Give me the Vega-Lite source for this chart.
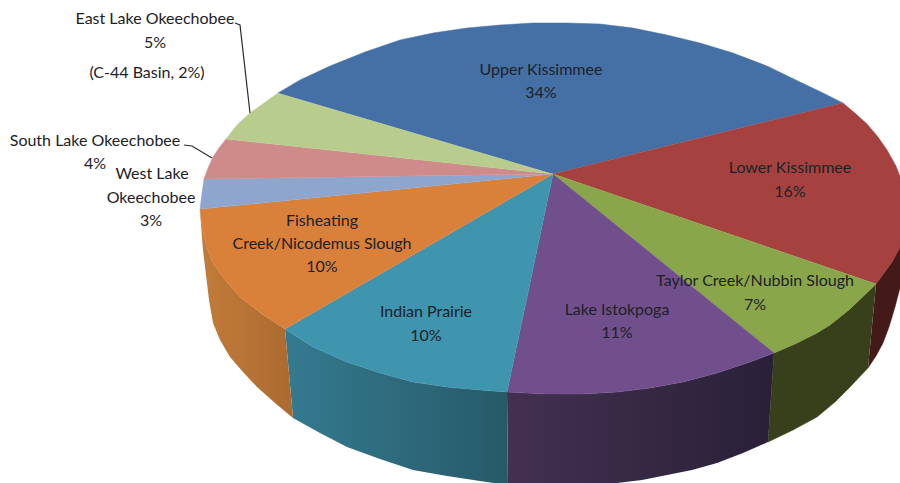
{"$schema":"https://vega.github.io/schema/vega-lite/v6.json","width":900,"height":483,"padding":0,"autosize":{"type":"fit","contains":"padding"},"background":"white","view":{"stroke":null},
"datasets":{"outline":[
{"slice":"Lower Kissimmee","part":"side","order":1,"x":876,"y":284},{"slice":"Lower Kissimmee","part":"side","order":2,"x":892,"y":262},{"slice":"Lower Kissimmee","part":"side","order":3,"x":904,"y":240},{"slice":"Lower Kissimmee","part":"side","order":4,"x":904,"y":262},{"slice":"Lower Kissimmee","part":"side","order":5,"x":900,"y":288},{"slice":"Lower Kissimmee","part":"side","order":6,"x":895,"y":307},{"slice":"Lower Kissimmee","part":"side","order":7,"x":889,"y":327},{"slice":"Lower Kissimmee","part":"side","order":8,"x":883,"y":343},{"slice":"Lower Kissimmee","part":"side","order":9,"x":876,"y":356},{"slice":"Lower Kissimmee","part":"side","order":10,"x":868,"y":368},
{"slice":"Taylor Creek/Nubbin Slough","part":"side","order":1,"x":876,"y":284},{"slice":"Taylor Creek/Nubbin Slough","part":"side","order":2,"x":850,"y":309},{"slice":"Taylor Creek/Nubbin Slough","part":"side","order":3,"x":830,"y":325},{"slice":"Taylor Creek/Nubbin Slough","part":"side","order":4,"x":817,"y":333},{"slice":"Taylor Creek/Nubbin Slough","part":"side","order":5,"x":795,"y":344},{"slice":"Taylor Creek/Nubbin Slough","part":"side","order":6,"x":774,"y":353},{"slice":"Taylor Creek/Nubbin Slough","part":"side","order":7,"x":768,"y":442},{"slice":"Taylor Creek/Nubbin Slough","part":"side","order":8,"x":793,"y":430},{"slice":"Taylor Creek/Nubbin Slough","part":"side","order":9,"x":817,"y":417},{"slice":"Taylor Creek/Nubbin Slough","part":"side","order":10,"x":835,"y":402},{"slice":"Taylor Creek/Nubbin Slough","part":"side","order":11,"x":850,"y":387},{"slice":"Taylor Creek/Nubbin Slough","part":"side","order":12,"x":868,"y":368},
{"slice":"Lake Istokpoga","part":"side","order":1,"x":774,"y":353},{"slice":"Lake Istokpoga","part":"side","order":2,"x":750,"y":362},{"slice":"Lake Istokpoga","part":"side","order":3,"x":717,"y":373},{"slice":"Lake Istokpoga","part":"side","order":4,"x":683,"y":382},{"slice":"Lake Istokpoga","part":"side","order":5,"x":650,"y":388},{"slice":"Lake Istokpoga","part":"side","order":6,"x":617,"y":392},{"slice":"Lake Istokpoga","part":"side","order":7,"x":583,"y":394},{"slice":"Lake Istokpoga","part":"side","order":8,"x":545,"y":394},{"slice":"Lake Istokpoga","part":"side","order":9,"x":507,"y":392},{"slice":"Lake Istokpoga","part":"side","order":10,"x":508,"y":485},{"slice":"Lake Istokpoga","part":"side","order":11,"x":545,"y":487},{"slice":"Lake Istokpoga","part":"side","order":12,"x":580,"y":487},{"slice":"Lake Istokpoga","part":"side","order":13,"x":617,"y":483},{"slice":"Lake Istokpoga","part":"side","order":14,"x":642,"y":480},{"slice":"Lake Istokpoga","part":"side","order":15,"x":667,"y":475},{"slice":"Lake Istokpoga","part":"side","order":16,"x":692,"y":470},{"slice":"Lake Istokpoga","part":"side","order":17,"x":717,"y":463},{"slice":"Lake Istokpoga","part":"side","order":18,"x":743,"y":453},{"slice":"Lake Istokpoga","part":"side","order":19,"x":768,"y":442},
{"slice":"Indian Prairie","part":"side","order":1,"x":507,"y":392},{"slice":"Indian Prairie","part":"side","order":2,"x":480,"y":390},{"slice":"Indian Prairie","part":"side","order":3,"x":447,"y":387},{"slice":"Indian Prairie","part":"side","order":4,"x":413,"y":382},{"slice":"Indian Prairie","part":"side","order":5,"x":380,"y":373},{"slice":"Indian Prairie","part":"side","order":6,"x":347,"y":362},{"slice":"Indian Prairie","part":"side","order":7,"x":313,"y":347},{"slice":"Indian Prairie","part":"side","order":8,"x":285,"y":329},{"slice":"Indian Prairie","part":"side","order":9,"x":293,"y":418},{"slice":"Indian Prairie","part":"side","order":10,"x":320,"y":433},{"slice":"Indian Prairie","part":"side","order":11,"x":347,"y":447},{"slice":"Indian Prairie","part":"side","order":12,"x":380,"y":459},{"slice":"Indian Prairie","part":"side","order":13,"x":413,"y":470},{"slice":"Indian Prairie","part":"side","order":14,"x":447,"y":476},{"slice":"Indian Prairie","part":"side","order":15,"x":480,"y":481},{"slice":"Indian Prairie","part":"side","order":16,"x":508,"y":485},
{"slice":"Fisheating Creek/Nicodemus Slough","part":"side","order":1,"x":285,"y":329},{"slice":"Fisheating Creek/Nicodemus Slough","part":"side","order":2,"x":262,"y":314},{"slice":"Fisheating Creek/Nicodemus Slough","part":"side","order":3,"x":240,"y":297},{"slice":"Fisheating Creek/Nicodemus Slough","part":"side","order":4,"x":225,"y":280},{"slice":"Fisheating Creek/Nicodemus Slough","part":"side","order":5,"x":213,"y":263},{"slice":"Fisheating Creek/Nicodemus Slough","part":"side","order":6,"x":206,"y":245},{"slice":"Fisheating Creek/Nicodemus Slough","part":"side","order":7,"x":202,"y":227},{"slice":"Fisheating Creek/Nicodemus Slough","part":"side","order":8,"x":200,"y":209},{"slice":"Fisheating Creek/Nicodemus Slough","part":"side","order":9,"x":201,"y":225},{"slice":"Fisheating Creek/Nicodemus Slough","part":"side","order":10,"x":203,"y":250},{"slice":"Fisheating Creek/Nicodemus Slough","part":"side","order":11,"x":206,"y":275},{"slice":"Fisheating Creek/Nicodemus Slough","part":"side","order":12,"x":209,"y":300},{"slice":"Fisheating Creek/Nicodemus Slough","part":"side","order":13,"x":213,"y":323},{"slice":"Fisheating Creek/Nicodemus Slough","part":"side","order":14,"x":220,"y":340},{"slice":"Fisheating Creek/Nicodemus Slough","part":"side","order":15,"x":230,"y":357},{"slice":"Fisheating Creek/Nicodemus Slough","part":"side","order":16,"x":243,"y":372},{"slice":"Fisheating Creek/Nicodemus Slough","part":"side","order":17,"x":257,"y":387},{"slice":"Fisheating Creek/Nicodemus Slough","part":"side","order":18,"x":275,"y":403},{"slice":"Fisheating Creek/Nicodemus Slough","part":"side","order":19,"x":293,"y":418},
{"slice":"Upper Kissimmee","part":"top","order":0,"x":553,"y":174},{"slice":"Upper Kissimmee","part":"top","order":1,"x":278,"y":93},{"slice":"Upper Kissimmee","part":"top","order":2,"x":300,"y":80},{"slice":"Upper Kissimmee","part":"top","order":3,"x":330,"y":66},{"slice":"Upper Kissimmee","part":"top","order":4,"x":365,"y":52},{"slice":"Upper Kissimmee","part":"top","order":5,"x":400,"y":40},{"slice":"Upper Kissimmee","part":"top","order":6,"x":433,"y":33},{"slice":"Upper Kissimmee","part":"top","order":7,"x":467,"y":28},{"slice":"Upper Kissimmee","part":"top","order":8,"x":500,"y":25},{"slice":"Upper Kissimmee","part":"top","order":9,"x":533,"y":23},{"slice":"Upper Kissimmee","part":"top","order":10,"x":567,"y":23},{"slice":"Upper Kissimmee","part":"top","order":11,"x":600,"y":24},{"slice":"Upper Kissimmee","part":"top","order":12,"x":633,"y":28},{"slice":"Upper Kissimmee","part":"top","order":13,"x":667,"y":35},{"slice":"Upper Kissimmee","part":"top","order":14,"x":700,"y":43},{"slice":"Upper Kissimmee","part":"top","order":15,"x":733,"y":53},{"slice":"Upper Kissimmee","part":"top","order":16,"x":767,"y":66},{"slice":"Upper Kissimmee","part":"top","order":17,"x":800,"y":82},{"slice":"Upper Kissimmee","part":"top","order":18,"x":823,"y":93},{"slice":"Upper Kissimmee","part":"top","order":19,"x":843,"y":103},
{"slice":"Lower Kissimmee","part":"top","order":0,"x":553,"y":174},{"slice":"Lower Kissimmee","part":"top","order":1,"x":843,"y":103},{"slice":"Lower Kissimmee","part":"top","order":2,"x":856,"y":114},{"slice":"Lower Kissimmee","part":"top","order":3,"x":867,"y":124},{"slice":"Lower Kissimmee","part":"top","order":4,"x":878,"y":137},{"slice":"Lower Kissimmee","part":"top","order":5,"x":887,"y":150},{"slice":"Lower Kissimmee","part":"top","order":6,"x":896,"y":166},{"slice":"Lower Kissimmee","part":"top","order":7,"x":903,"y":185},{"slice":"Lower Kissimmee","part":"top","order":8,"x":907,"y":205},{"slice":"Lower Kissimmee","part":"top","order":9,"x":907,"y":225},{"slice":"Lower Kissimmee","part":"top","order":10,"x":904,"y":240},{"slice":"Lower Kissimmee","part":"top","order":11,"x":892,"y":262},{"slice":"Lower Kissimmee","part":"top","order":12,"x":876,"y":284},
{"slice":"Taylor Creek/Nubbin Slough","part":"top","order":0,"x":553,"y":174},{"slice":"Taylor Creek/Nubbin Slough","part":"top","order":1,"x":876,"y":284},{"slice":"Taylor Creek/Nubbin Slough","part":"top","order":2,"x":850,"y":309},{"slice":"Taylor Creek/Nubbin Slough","part":"top","order":3,"x":830,"y":325},{"slice":"Taylor Creek/Nubbin Slough","part":"top","order":4,"x":817,"y":333},{"slice":"Taylor Creek/Nubbin Slough","part":"top","order":5,"x":795,"y":344},{"slice":"Taylor Creek/Nubbin Slough","part":"top","order":6,"x":774,"y":353},
{"slice":"Lake Istokpoga","part":"top","order":0,"x":553,"y":174},{"slice":"Lake Istokpoga","part":"top","order":1,"x":774,"y":353},{"slice":"Lake Istokpoga","part":"top","order":2,"x":750,"y":362},{"slice":"Lake Istokpoga","part":"top","order":3,"x":717,"y":373},{"slice":"Lake Istokpoga","part":"top","order":4,"x":683,"y":382},{"slice":"Lake Istokpoga","part":"top","order":5,"x":650,"y":388},{"slice":"Lake Istokpoga","part":"top","order":6,"x":617,"y":392},{"slice":"Lake Istokpoga","part":"top","order":7,"x":583,"y":394},{"slice":"Lake Istokpoga","part":"top","order":8,"x":545,"y":394},{"slice":"Lake Istokpoga","part":"top","order":9,"x":507,"y":392},
{"slice":"Indian Prairie","part":"top","order":0,"x":553,"y":174},{"slice":"Indian Prairie","part":"top","order":1,"x":507,"y":392},{"slice":"Indian Prairie","part":"top","order":2,"x":480,"y":390},{"slice":"Indian Prairie","part":"top","order":3,"x":447,"y":387},{"slice":"Indian Prairie","part":"top","order":4,"x":413,"y":382},{"slice":"Indian Prairie","part":"top","order":5,"x":380,"y":373},{"slice":"Indian Prairie","part":"top","order":6,"x":347,"y":362},{"slice":"Indian Prairie","part":"top","order":7,"x":313,"y":347},{"slice":"Indian Prairie","part":"top","order":8,"x":285,"y":329},
{"slice":"Fisheating Creek/Nicodemus Slough","part":"top","order":0,"x":553,"y":174},{"slice":"Fisheating Creek/Nicodemus Slough","part":"top","order":1,"x":285,"y":329},{"slice":"Fisheating Creek/Nicodemus Slough","part":"top","order":2,"x":262,"y":314},{"slice":"Fisheating Creek/Nicodemus Slough","part":"top","order":3,"x":240,"y":297},{"slice":"Fisheating Creek/Nicodemus Slough","part":"top","order":4,"x":225,"y":280},{"slice":"Fisheating Creek/Nicodemus Slough","part":"top","order":5,"x":213,"y":263},{"slice":"Fisheating Creek/Nicodemus Slough","part":"top","order":6,"x":206,"y":245},{"slice":"Fisheating Creek/Nicodemus Slough","part":"top","order":7,"x":202,"y":227},{"slice":"Fisheating Creek/Nicodemus Slough","part":"top","order":8,"x":200,"y":209},
{"slice":"West Lake Okeechobee","part":"top","order":0,"x":553,"y":174},{"slice":"West Lake Okeechobee","part":"top","order":1,"x":200,"y":209},{"slice":"West Lake Okeechobee","part":"top","order":2,"x":201,"y":201},{"slice":"West Lake Okeechobee","part":"top","order":3,"x":202,"y":193},{"slice":"West Lake Okeechobee","part":"top","order":4,"x":204,"y":179},
{"slice":"South Lake Okeechobee","part":"top","order":0,"x":553,"y":174},{"slice":"South Lake Okeechobee","part":"top","order":1,"x":204,"y":179},{"slice":"South Lake Okeechobee","part":"top","order":2,"x":208,"y":168},{"slice":"South Lake Okeechobee","part":"top","order":3,"x":213,"y":157},{"slice":"South Lake Okeechobee","part":"top","order":4,"x":219,"y":148},{"slice":"South Lake Okeechobee","part":"top","order":5,"x":226,"y":139},
{"slice":"East Lake Okeechobee","part":"top","order":0,"x":553,"y":174},{"slice":"East Lake Okeechobee","part":"top","order":1,"x":226,"y":139},{"slice":"East Lake Okeechobee","part":"top","order":2,"x":237,"y":125},{"slice":"East Lake Okeechobee","part":"top","order":3,"x":250,"y":113},{"slice":"East Lake Okeechobee","part":"top","order":4,"x":264,"y":103},{"slice":"East Lake Okeechobee","part":"top","order":5,"x":278,"y":93}
],
"leaders":[
{"slice":"East Lake Okeechobee","order":1,"x":235,"y":23},{"slice":"East Lake Okeechobee","order":2,"x":240,"y":25},{"slice":"East Lake Okeechobee","order":3,"x":250,"y":113},
{"slice":"South Lake Okeechobee","order":1,"x":184,"y":145},{"slice":"South Lake Okeechobee","order":2,"x":192,"y":146},{"slice":"South Lake Okeechobee","order":3,"x":212,"y":158}
],
"labels":[
{"text":"Upper Kissimmee","x":541,"y":70},{"text":"34%","x":541,"y":93},
{"text":"Lower Kissimmee","x":790,"y":168},{"text":"16%","x":790,"y":192},
{"text":"Taylor Creek/Nubbin Slough","x":755,"y":281},{"text":"7%","x":755,"y":305},
{"text":"Lake Istokpoga","x":617,"y":310},{"text":"11%","x":617,"y":333},
{"text":"Indian Prairie","x":426,"y":312},{"text":"10%","x":426,"y":336},
{"text":"Fisheating","x":322,"y":221},{"text":"Creek/Nicodemus Slough","x":322,"y":244},{"text":"10%","x":322,"y":267},
{"text":"West Lake","x":152,"y":174},{"text":"Okeechobee","x":151,"y":198},{"text":"3%","x":151,"y":221},
{"text":"South Lake Okeechobee","x":95,"y":141},{"text":"4%","x":95,"y":164},
{"text":"East Lake Okeechobee","x":155,"y":19},{"text":"5%","x":155,"y":43},{"text":"(C-44 Basin, 2%)","x":147,"y":73}
]},
"data":{"name":"outline"},
"encoding":{
"x":{"field":"x","type":"quantitative","scale":{"domain":[0,900],"nice":false,"zero":false},"axis":null},
"y":{"field":"y","type":"quantitative","scale":{"domain":[483,0],"nice":false,"zero":false},"axis":null},
"order":{"field":"order","type":"quantitative"}
},
"layer":[
{"transform":[{"filter":"datum.part==='side' && datum.slice==='Lower Kissimmee'"}],"mark":{"type":"line","clip":true,"fill":"#431A17","stroke":"#431A17","strokeWidth":0.5}},
{"transform":[{"filter":"datum.part==='side' && datum.slice==='Taylor Creek/Nubbin Slough'"}],"mark":{"type":"line","clip":true,"fill":"#37401B","stroke":"#37401B","strokeWidth":0.5}},
{"transform":[{"filter":"datum.part==='side' && datum.slice==='Lake Istokpoga'"}],"mark":{"type":"line","clip":true,"strokeWidth":0,"fill":{"gradient":"linear","x1":0,"y1":0,"x2":1,"y2":0,"stops":[{"offset":0,"color":"#443050"},{"offset":1,"color":"#292038"}]}}},
{"transform":[{"filter":"datum.part==='side' && datum.slice==='Indian Prairie'"}],"mark":{"type":"line","clip":true,"strokeWidth":0,"fill":{"gradient":"linear","x1":0,"y1":0,"x2":1,"y2":0,"stops":[{"offset":0,"color":"#357A90"},{"offset":1,"color":"#265A68"}]}}},
{"transform":[{"filter":"datum.part==='side' && datum.slice==='Fisheating Creek/Nicodemus Slough'"}],"mark":{"type":"line","clip":true,"strokeWidth":0,"fill":{"gradient":"linear","x1":0,"y1":0,"x2":1,"y2":0,"stops":[{"offset":0,"color":"#C27C3A"},{"offset":1,"color":"#AC6A30"}]}}},
{"transform":[{"filter":"datum.part==='top'"}],"mark":{"type":"line","clip":true,"strokeWidth":0.5},
"encoding":{"fill":{"field":"slice","type":"nominal","legend":null,"scale":{"domain":["Upper Kissimmee","Lower Kissimmee","Taylor Creek/Nubbin Slough","Lake Istokpoga","Indian Prairie","Fisheating Creek/Nicodemus Slough","West Lake Okeechobee","South Lake Okeechobee","East Lake Okeechobee"],"range":["#4570A6","#A5413F","#8AA64A","#714F8C","#3F94AE","#D9803A","#8EA6CD","#CE8B8A","#B8CC8E"]}},
"stroke":{"field":"slice","type":"nominal","legend":null,"scale":{"domain":["Upper Kissimmee","Lower Kissimmee","Taylor Creek/Nubbin Slough","Lake Istokpoga","Indian Prairie","Fisheating Creek/Nicodemus Slough","West Lake Okeechobee","South Lake Okeechobee","East Lake Okeechobee"],"range":["#4570A6","#A5413F","#8AA64A","#714F8C","#3F94AE","#D9803A","#8EA6CD","#CE8B8A","#B8CC8E"]}}}},
{"data":{"name":"leaders"},"mark":{"type":"line","stroke":"#2b2b2b","strokeWidth":1.2},"encoding":{"detail":{"field":"slice"}}},
{"data":{"name":"labels"},"mark":{"type":"text","font":"Lato","fontSize":16,"color":"#1c2128","align":"center","baseline":"middle"},"encoding":{"text":{"field":"text"},"order":{"value":null}}}
]}
